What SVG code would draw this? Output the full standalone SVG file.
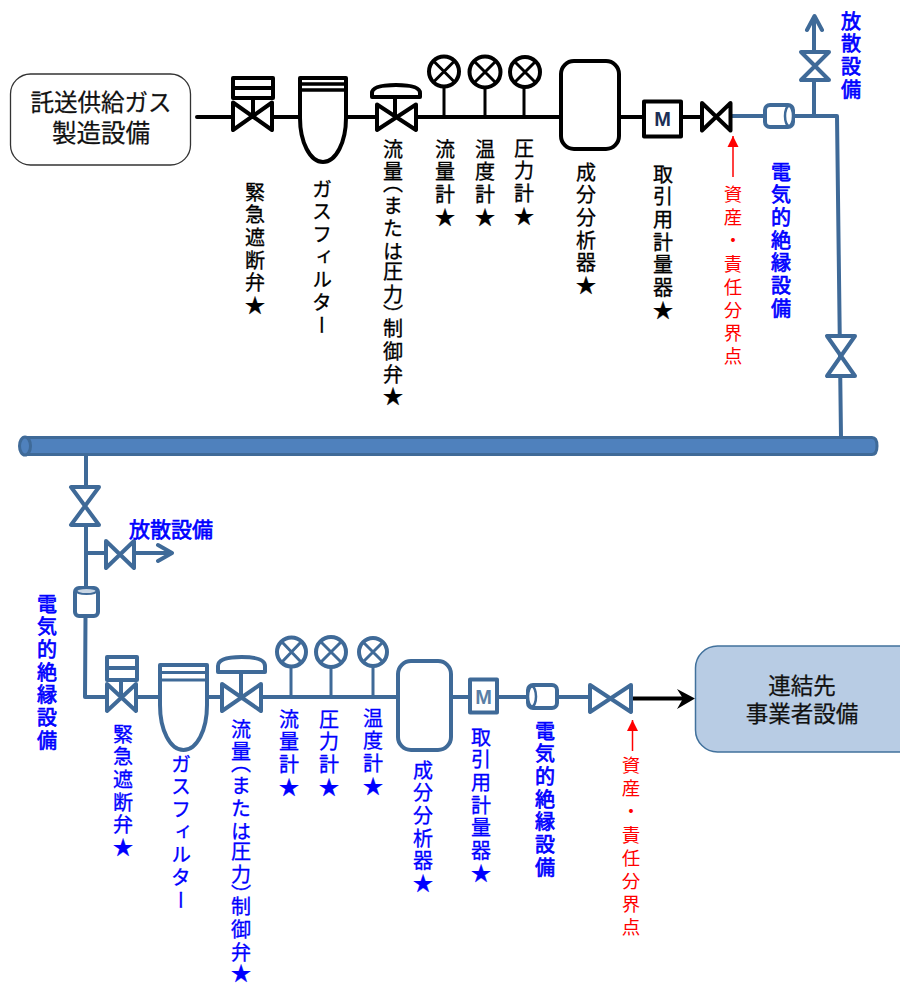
<svg xmlns="http://www.w3.org/2000/svg" width="900" height="984" viewBox="0 0 900 984">
<style>
text{font-family:"Noto Sans CJK JP","Liberation Sans",sans-serif}
.v{writing-mode:vertical-rl;font-size:20px;letter-spacing:2.700px}
.k{fill:#000;stroke:#000;stroke-width:.3px}
.b{fill:#00f;stroke:#00f;stroke-width:.3px}
.r{fill:#f00;font-size:18.500px;letter-spacing:4.600px}
.bd{stroke-width:.7px}
.h{text-anchor:middle;fill:#111;stroke:#111;stroke-width:.25px}
.lk,.lb{fill:none;stroke-linejoin:round;stroke-linecap:round}
.lk{stroke:#000;stroke-width:4}
.lb{stroke:#3f6a98;stroke-width:4}
.thin{stroke-width:3}
.wk{fill:#fff;stroke:#000;stroke-width:4;stroke-linejoin:round}
.wb{fill:#fff;stroke:#3f6a98;stroke-width:4;stroke-linejoin:round}
.m{font:700 20px "Liberation Sans",sans-serif;text-anchor:middle}
</style>
<defs>
<marker id="ra" markerUnits="userSpaceOnUse" markerWidth="12" markerHeight="12" refX="11" refY="6" orient="auto"><path d="M0 0.500L11 6L0 11.500Z" fill="#f00"/></marker>
</defs>

<g id="connectors">
<path class="lk" d="M197 117H232M273 117H299M347 117H376M417 117H561M619 117H643M681 117H701"/>
<path class="lk thin" d="M444 87V117M485 88V117M524 87V117"/>
<path class="lb" d="M731 116H765M793 116H837L841 437M814 116V80M814 51V17M807 30L814.500 16L822 30M86 455V486M86 525V587M86 553H105M135 553H171M158 545L172 553L158 561M85.500 617L85 697H106M137 697H160M207 697H222M262 697H398M451 697H469M497 697H527M557 697H590"/>
<path class="lb thin" d="M291 667V697M331 667V697M373 666V697"/>
<path d="M631 698.500H684" fill="none" stroke="#000" stroke-width="4"/>
<path d="M695 698.500L677 689L683 698.500L677 709Z" fill="#000"/>
<path d="M733 177V136" stroke="#f00" stroke-width="1.500" marker-end="url(#ra)" fill="none"/>
<path d="M632.500 751V720" stroke="#f00" stroke-width="1.500" marker-end="url(#ra)" fill="none"/>
</g>

<g id="pipe">
<path d="M25 437.500H872Q877 437.500 877 446T872 454.500H25Z" fill="#4f81bd" stroke="#3f6a98" stroke-width="3"/>
<ellipse cx="25" cy="446" rx="5.500" ry="9" fill="#4f81bd" stroke="#3f6a98" stroke-width="3"/>
</g>

<g id="supply-box"><rect x="10.500" y="74" width="180" height="91" rx="20" fill="#fff" stroke="#333" stroke-width="1.300"/>
<text class="h" x="101" y="111" font-size="23.500">託送供給ガス</text><text class="h" x="101" y="142" font-size="24.500">製造設備</text></g>

<g id="emergency-valve-1"><path class="wk" d="M233 102.500L272 130V102.500L233 130Z"/><path class="wk" d="M233 78H273V98H233ZM233 88H273"/><path class="lk" d="M253 98V117"/>
<text class="v k" x="255" y="182">緊急遮断弁★</text></g>
<g id="filter-1"><path class="wk" d="M300 78H346V118C346 142 336 162 323 162C310 162 300 142 300 118Z"/><path d="M300 84H346M300 90H346" stroke="#000" stroke-width="3.500"/>
<text class="v k" x="322" y="179">ガスフィルター</text></g>
<g id="control-valve-1"><path class="wk" d="M377 104.500L416 130V104.500L377 130Z"/><path class="lk" d="M395 97V117"/><path class="wk" d="M372 97V93Q372 85 396 85T420 93V97Z"/>
<text class="v k" x="393"><tspan y="139">流量</tspan><tspan y="174">（</tspan><tspan y="196">または</tspan><tspan y="262">圧力</tspan><tspan y="304">）</tspan><tspan y="319">制御弁★</tspan></text></g>
<g id="gauge-flow-1"><circle class="wk" cx="444" cy="71.500" r="15"/><path class="lk thin" d="M434 61.500L454 81.500M454 61.500L434 81.500"/><text class="v k" x="445" y="139">流量計★</text></g>
<g id="gauge-temp-1"><circle class="wk" cx="485" cy="72" r="15.500"/><path class="lk thin" d="M475 62L495 82M495 62L475 82"/><text class="v k" x="485" y="139">温度計★</text></g>
<g id="gauge-press-1"><circle class="wk" cx="525" cy="72" r="15"/><path class="lk thin" d="M515 62L535 82M535 62L515 82"/><text class="v k" x="524" y="138">圧力計★</text></g>
<g id="analyzer-1"><rect class="wk" x="561" y="61" width="58" height="88" rx="13"/><text class="v k" x="586" y="162">成分分析器★</text></g>
<g id="meter-1"><rect class="wk" x="644" y="101.500" width="37" height="35"/><text class="m" x="662.500" y="125.500" fill="#1c2f55">M</text><text class="v k" x="663" y="164">取引用計量器★</text></g>
<g id="boundary-valve-1"><path class="wk" d="M702 103L730.500 130.500V103L702 130.500Z"/><text class="v r" x="733" y="185">資産・責任分界点</text></g>
<g id="insulator-1"><rect class="wb" x="765" y="105" width="28" height="22" rx="5"/><ellipse cx="789" cy="116" rx="4" ry="10" fill="#fff" stroke="#3f6a98" stroke-width="2.500"/><text class="v b bd" x="781" y="162">電気的絶縁設備</text></g>
<g id="vent-valve-1"><path class="wb" d="M801 52H829L801 80H829Z"/><text class="v b bd" x="851" y="11">放散設備</text></g>
<g id="line-valve-1"><path class="wb" d="M827 336H855L827 376H855Z"/></g>

<g id="line-valve-2"><path class="wb" d="M71 487H99L71 525H99Z"/></g>
<g id="vent-valve-2"><path class="wb" d="M106 541L134 568V541L106 568Z"/><text x="129" y="536.500" font-size="21" fill="#00f" stroke="#00f" stroke-width=".7">放散設備</text></g>
<g id="insulator-2"><rect class="wb" x="75" y="588" width="23" height="28" rx="4"/><ellipse cx="86.500" cy="591" rx="10" ry="3" fill="#c9d6e4" stroke="#3f6a98" stroke-width="2"/><text class="v b bd" x="47" y="594">電気的絶縁設備</text></g>
<g id="emergency-valve-2"><path class="wb" d="M107 684L136 711V684L107 711Z"/><path class="wb" d="M107 657H137V680H107ZM107 668H137"/><path class="lb" d="M121 680V697"/><text class="v b" x="123" y="724">緊急遮断弁★</text></g>
<g id="filter-2"><path class="wb" d="M160 665H207V705C207 730 197 750 183.500 750C170 750 160 730 160 705Z"/><path d="M160 672.500H207M160 680H207" stroke="#3f6a98" stroke-width="3"/><text class="v b" x="181" y="754">ガスフィルター</text></g>
<g id="control-valve-2"><path class="wb" d="M222 684L261 711V684L222 711Z"/><path class="lb" d="M241 672V697"/><path class="wb" d="M218 672V666Q218 657 241.500 657T265 666V672Z"/>
<text class="v b" x="241"><tspan y="719">流量</tspan><tspan y="754">（</tspan><tspan y="776">または</tspan><tspan y="842">圧力</tspan><tspan y="884">）</tspan><tspan y="897">制御弁</tspan><tspan y="963.500">★</tspan></text></g>
<g id="gauge-flow-2"><circle class="wb" cx="291.500" cy="652" r="14.500"/><path class="lb thin" d="M282 642L301 662M301 642L282 662"/><text class="v b" x="289" y="709">流量計★</text></g>
<g id="gauge-press-2"><circle class="wb" cx="331" cy="652" r="15"/><path class="lb thin" d="M321 642L341 662M341 642L321 662"/><text class="v b" x="329" y="709">圧力計★</text></g>
<g id="gauge-temp-2"><circle class="wb" cx="373" cy="652" r="14"/><path class="lb thin" d="M364 643L382 661M382 643L364 661"/><text class="v b" x="373" y="708">温度計★</text></g>
<g id="analyzer-2"><rect class="wb" x="398" y="661" width="53" height="89" rx="13"/><text class="v b" x="423" y="760">成分分析器★</text></g>
<g id="meter-2"><rect class="wb" x="470" y="679.500" width="27" height="33"/><text class="m" x="483.500" y="703.500" fill="#5b7fa6">M</text><text class="v b" x="481" y="727">取引用計量器★</text></g>
<g id="insulator-3"><rect class="wb" x="528" y="685" width="29" height="23" rx="5"/><ellipse cx="532" cy="696.500" rx="4" ry="10" fill="#fff" stroke="#3f6a98" stroke-width="2.500"/><text class="v b bd" x="545" y="721">電気的絶縁設備</text></g>
<g id="boundary-valve-2"><path class="wb" d="M590 685L631 712V685L590 712Z"/><text class="v r" x="631" y="756">資産・責任分界点</text></g>
<g id="destination-box"><rect x="695.500" y="646" width="230" height="106" rx="22" fill="#b8cce4" stroke="#41719c" stroke-width="1.500"/>
<text class="h" x="802" y="694" font-size="22.500">連結先</text><text class="h" x="802" y="722" font-size="22.500">事業者設備</text></g>
</svg>
